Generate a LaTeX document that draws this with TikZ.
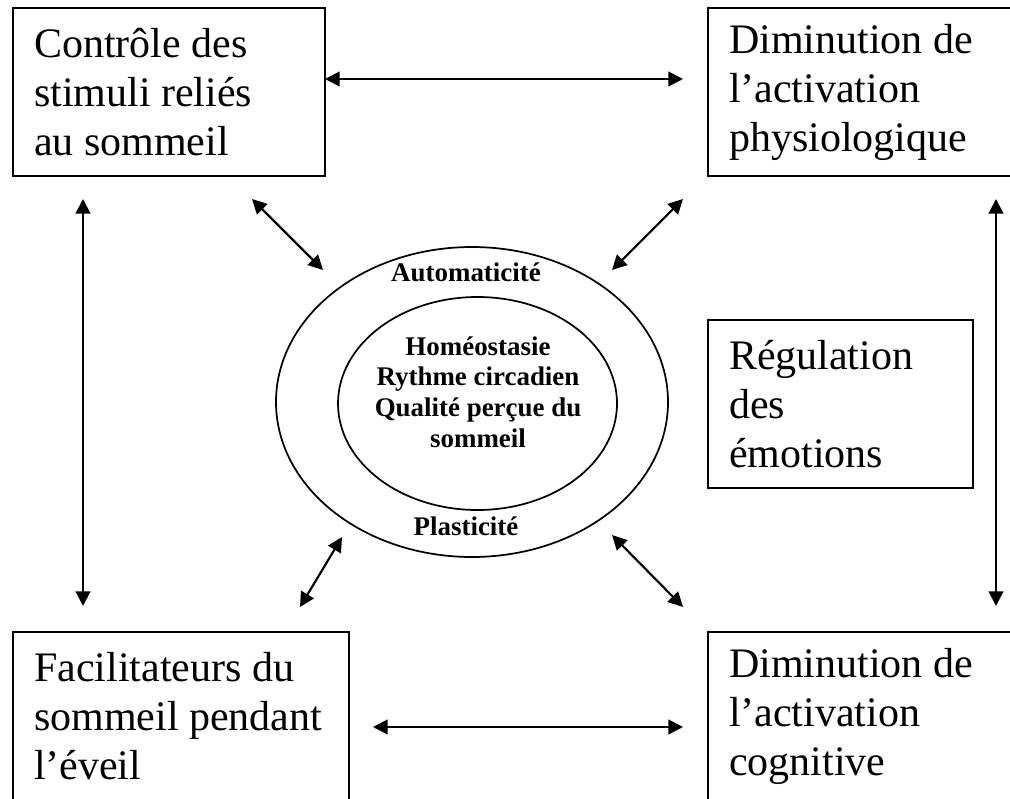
\documentclass[tikz,border=0pt]{standalone}
\usepackage{fontspec}
\setmainfont{Liberation Serif}
\usetikzlibrary{shapes.geometric,arrows.meta,positioning}

\tikzset{
  boxnode/.style={draw, line width=1.5pt, anchor=north west, align=flush left,
    inner xsep=15.75pt, inner ysep=0pt, minimum height=126pt,
    font=\fontsize{31.5}{36.75}\selectfont},
  ring/.style={draw, ellipse, line width=1.3pt, inner sep=0pt},
  dbl/.style={line width=1.6pt, {Triangle[length=11pt,width=11pt]}-{Triangle[length=11pt,width=11pt]}},
  bold/.style={font=\fontsize{20.2}{23}\selectfont\bfseries}
}

\begin{document}
\begin{tikzpicture}[x=0.75pt, y=-0.75pt]

    \useasboundingbox (0,0) rectangle (1010,799);

    %% boxes
    \node[boxnode, text width=202.5pt] (ctrl) at (12,7)
      {Contrôle des\\stimuli reliés\\au sommeil};
    \node[boxnode, text width=199.5pt] (physio) at (707,7)
      {Diminution de\\l’activation\\physiologique};
    \node[boxnode, text width=167.25pt] (emo) at (707,319)
      {Régulation\\des\\émotions};
    \node[boxnode, text width=220.5pt] (facil) at (12,631)
      {Facilitateurs du\\sommeil pendant\\l’éveil};
    \node[boxnode, text width=199.5pt] (cogn) at (707,631)
      {Diminution de\\l’activation\\cognitive};

    %% centre
    \node[ring, minimum width=294pt, minimum height=232.5pt] (outer) at (472,402) {};
    \node[ring, minimum width=209.25pt, minimum height=159.75pt] (inner) at (477.5,403.5) {};
    \node[bold, anchor=base] (auto) at (466,281) {Automaticité};
    \node[bold, anchor=base] (plast) at (466,535) {Plasticité};
    \node[bold, align=center] (core) at (478,392)
      {Homéostasie\\Rythme circadien\\Qualité perçue du\\sommeil};

    %% arrow ends
    \coordinate (t1) at (325,79);   \coordinate (t2) at (683,79);
    \coordinate (b1) at (373,727);  \coordinate (b2) at (683,727);
    \coordinate (l1) at (83,199);   \coordinate (l2) at (83,606);
    \coordinate (r1) at (996,199);  \coordinate (r2) at (996,606);
    \coordinate (d1) at (252,199);  \coordinate (d2) at (323,270);
    \coordinate (e1) at (683,199);  \coordinate (e2) at (612,270);
    \coordinate (f1) at (342,537);  \coordinate (f2) at (300,607);
    \coordinate (g1) at (612,535);  \coordinate (g2) at (683,607);

    %% arrows
    \foreach \a/\b in {t1/t2,b1/b2,l1/l2,r1/r2,d1/d2,e1/e2,f1/f2,g1/g2}{
      \draw[dbl] (\a) -- (\b);
    }

\end{tikzpicture}
\end{document}
